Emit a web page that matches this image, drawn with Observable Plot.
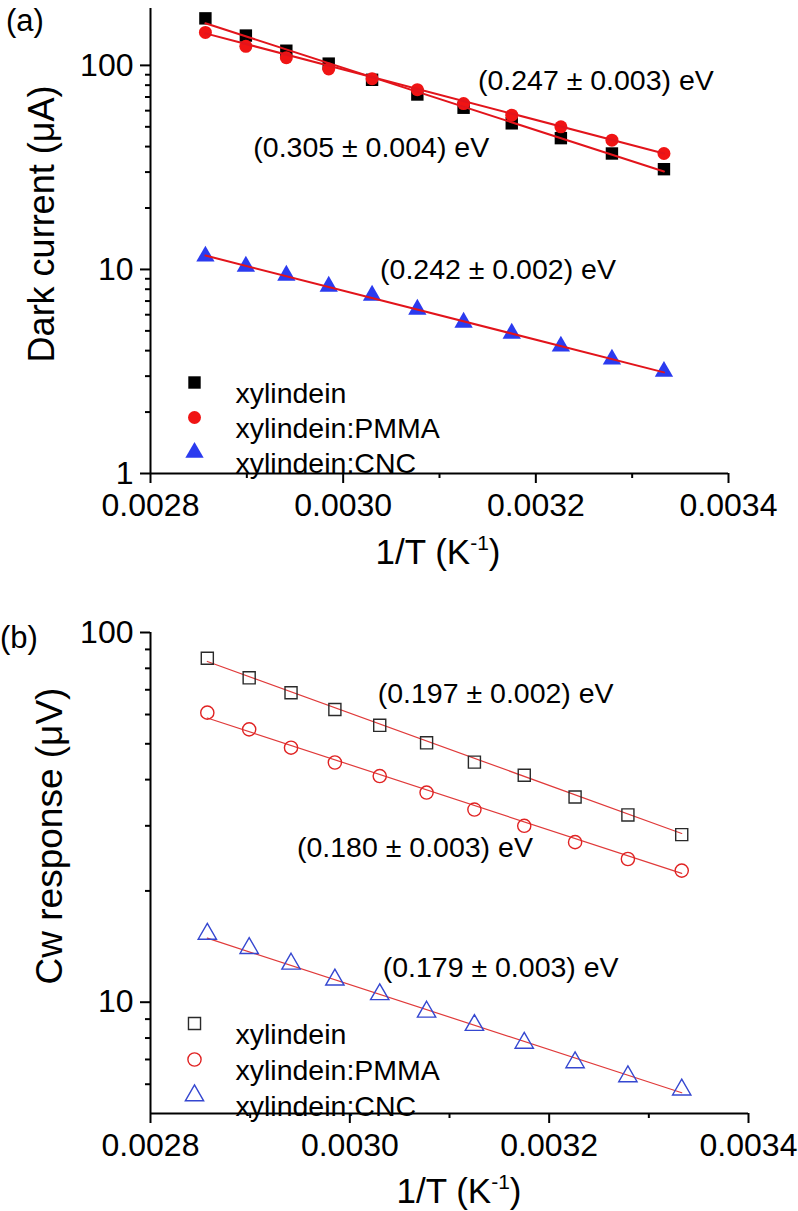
<!DOCTYPE html>
<html><head><meta charset="utf-8">
<script src="https://cdn.jsdelivr.net/npm/d3@7"></script>
<script src="https://cdn.jsdelivr.net/npm/@observablehq/plot@0.6"></script>
<style>
html,body{margin:0;padding:0;background:#fff;}
#chart{width:798px;}
#chart svg{display:block;}
</style>
</head><body><div id="chart"></div>
<script>
// ---------- data ----------
const invT = [0.002857, 0.002899, 0.002941, 0.002985, 0.003030, 0.003077, 0.003125, 0.003175, 0.003226, 0.003279, 0.003333];
const seriesNames = ["xylindein", "xylindein:PMMA", "xylindein:CNC"];

const darkXylindein = [170, 140, 118, 102, 85, 72, 62, 52, 44, 37, 31];
const darkPMMA      = [145, 124, 109, 96, 86, 76, 65, 57, 50, 43, 37];
const darkCNC       = [11.6, 10.35, 9.35, 8.26, 7.46, 6.37, 5.5, 4.86, 4.2, 3.63, 3.16];

const cwXylindein = [85.2, 75.4, 68.7, 61.9, 56.1, 50.3, 44.6, 41.1, 35.9, 32.1, 28.4];
const cwPMMA      = [60.7, 54.7, 48.8, 44.5, 40.9, 36.9, 33.2, 30.0, 27.1, 24.4, 22.7];
const cwCNC       = [15.3, 14.0, 12.7, 11.5, 10.5, 9.42, 8.67, 7.76, 6.87, 6.3, 5.8];

// fitted lines (end points)
const fitInvT = [0.002857, 0.003333];
const darkFitXylindein = [160.8, 30.2];
const darkFitPMMA      = [143.5, 37.0];
const darkFitCNC       = [11.7, 3.13];
const cwFitXylindein   = [83.5, 28.6];
const cwFitPMMA        = [58.7, 22.3];
const cwFitCNC         = [14.9, 5.69];

// activation-energy labels and their anchors (data units)
const darkEnergies = ["(0.305 ± 0.004) eV", "(0.247 ± 0.003) eV", "(0.242 ± 0.002) eV"];
const darkLabelX = [0.0029067, 0.0031399, 0.0030383];
const darkLabelY = [39.6, 84.4, 10.0];
const cwEnergies = ["(0.197 ± 0.002) eV", "(0.180 ± 0.003) eV", "(0.179 ± 0.003) eV"];
const cwLabelX = [0.003028, 0.002947, 0.003033];
const cwLabelY = [68.4, 26.1, 12.36];

// ticks
const xTicks = [0.0028, 0.0030, 0.0032, 0.0034];
const xMinor = [0.0029, 0.0031, 0.0033];
const darkTicksY = [1, 10, 100];
const darkMinorY = [2, 3, 4, 5, 6, 7, 8, 9, 20, 30, 40, 50, 60, 70, 80, 90];
const cwTicksY = [10, 100];
const cwMinorY = [6, 7, 8, 9, 20, 30, 40, 50, 60, 70, 80, 90];

// ---------- helpers ----------
const FONT = '"Liberation Sans", Arial, Helvetica, sans-serif';
const rows = (ys) => invT.map((x, i) => ({x, y: ys[i]}));
const fitRows = (ys) => fitInvT.map((x, i) => ({x, y: ys[i]}));
const labelRows = (texts, xs, ys) => texts.map((t, i) => ({t, x: xs[i], y: ys[i]}));

function axes(yTicks, yMinor, x0, y0) {
  return [
    Plot.axisY(yMinor, {tickSize: 5, strokeWidth: 2, tickFormat: () => "", label: null}),
    Plot.axisY(yTicks, {tickSize: 10, strokeWidth: 2, tickPadding: 7, fontSize: 32, tickFormat: d => String(d), label: null}),
    Plot.axisX(xMinor, {tickSize: 5, strokeWidth: 2, tickFormat: () => "", label: null}),
    Plot.axisX(xTicks, {tickSize: 10, strokeWidth: 2, tickPadding: 10, fontSize: 32, tickFormat: d => d.toFixed(4), label: null}),
    Plot.ruleX([x0], {strokeWidth: 2}),
    Plot.ruleY([y0], {strokeWidth: 2})
  ];
}

function legend(styles, dys) {
  const marks = [];
  seriesNames.forEach((name, i) => {
    marks.push(Plot.dot([name], {frameAnchor: "top-left", dx: 44, dy: dys[i], ...styles[i]}));
    marks.push(Plot.text([name], {frameAnchor: "top-left", dx: 85, dy: dys[i], text: d => d, textAnchor: "start", fontSize: 28.5, fill: "black"}));
  });
  return marks;
}

function addText(svg, {x, y, size, text, anchor = "start", rotate = 0}) {
  return d3.select(svg).append("text")
    .attr("transform", `translate(${x},${y}) rotate(${rotate})`)
    .attr("text-anchor", anchor)
    .attr("font-family", FONT)
    .attr("font-size", size)
    .attr("fill", "black")
    .text(text);
}

function xTitle(svg, cx, baseline) {
  const t = d3.select(svg).append("text")
    .attr("x", cx).attr("y", baseline)
    .attr("text-anchor", "middle")
    .attr("font-family", FONT).attr("font-size", 35).attr("fill", "black");
  t.append("tspan").text("1/T (K");
  t.append("tspan").attr("font-size", 21).attr("dy", -14).text("-1");
  t.append("tspan").attr("dy", 14).text(")");
}

// ---------- panel (a) ----------
const aStyles = [
  {symbol: "square", r: 7, fill: "#000000"},
  {symbol: "circle", r: 6.5, fill: "#f01414"},
  {symbol: "triangle", r: 6.8, fill: "#2b3bef"}
];
const redFitA = "#e2141b";

const svgA = Plot.plot({
  width: 798, height: 590,
  marginTop: 8, marginBottom: 117, marginLeft: 150, marginRight: 70,
  style: {fontFamily: FONT, overflow: "visible", background: "white"},
  x: {domain: [0.0028, 0.0034], axis: null},
  y: {type: "log", domain: [1, 190], axis: null},
  marks: [
    ...axes(darkTicksY, darkMinorY, 0.0028, 1),
    Plot.dot(rows(darkXylindein), {x: "x", y: "y", ...aStyles[0]}),
    Plot.dot(rows(darkPMMA), {x: "x", y: "y", ...aStyles[1]}),
    Plot.dot(rows(darkCNC), {x: "x", y: "y", ...aStyles[2]}),
    Plot.line(fitRows(darkFitXylindein), {x: "x", y: "y", stroke: redFitA, strokeWidth: 2}),
    Plot.line(fitRows(darkFitPMMA), {x: "x", y: "y", stroke: redFitA, strokeWidth: 2}),
    Plot.line(fitRows(darkFitCNC), {x: "x", y: "y", stroke: redFitA, strokeWidth: 2}),
    Plot.text(labelRows(darkEnergies, darkLabelX, darkLabelY), {x: "x", y: "y", text: "t", textAnchor: "start", fontSize: 28.5, fill: "black"}),
    ...legend(aStyles, [374, 409, 444])
  ]
});
addText(svgA, {x: 6, y: 31, size: 31, text: "(a)"});
addText(svgA, {x: 54, y: 224, size: 36, text: "Dark current (μA)", anchor: "middle", rotate: -90});
xTitle(svgA, 438, 564);

// ---------- panel (b) ----------
const bStyles = [
  {symbol: "square", r: 6.8, fill: "none", stroke: "#2a2a2a", strokeWidth: 1.4},
  {symbol: "circle", r: 6.6, fill: "none", stroke: "#e02222", strokeWidth: 1.4},
  {symbol: "triangle", r: 6.8, fill: "none", stroke: "#3547d0", strokeWidth: 1.4}
];
const redFitB = "#e03a3a";

const svgB = Plot.plot({
  width: 798, height: 621,
  marginTop: 42, marginBottom: 98, marginLeft: 150, marginRight: 50,
  style: {fontFamily: FONT, overflow: "visible", background: "white"},
  x: {domain: [0.0028, 0.0034], axis: null},
  y: {type: "log", domain: [5, 100], axis: null},
  marks: [
    ...axes(cwTicksY, cwMinorY, 0.0028, 5),
    Plot.line(fitRows(cwFitXylindein), {x: "x", y: "y", stroke: redFitB, strokeWidth: 1.2}),
    Plot.line(fitRows(cwFitPMMA), {x: "x", y: "y", stroke: redFitB, strokeWidth: 1.2}),
    Plot.line(fitRows(cwFitCNC), {x: "x", y: "y", stroke: redFitB, strokeWidth: 1.2}),
    Plot.dot(rows(cwXylindein), {x: "x", y: "y", ...bStyles[0]}),
    Plot.dot(rows(cwPMMA), {x: "x", y: "y", ...bStyles[1]}),
    Plot.dot(rows(cwCNC), {x: "x", y: "y", ...bStyles[2]}),
    Plot.text(labelRows(cwEnergies, cwLabelX, cwLabelY), {x: "x", y: "y", text: "t", textAnchor: "start", fontSize: 28.5, fill: "black"}),
    ...legend(bStyles, [391, 427, 463])
  ]
});
addText(svgB, {x: 0, y: 58, size: 31, text: "(b)"});
addText(svgB, {x: 62, y: 246, size: 37, text: "Cw response (μV)", anchor: "middle", rotate: -90});
xTitle(svgB, 459, 613);

const chart = document.getElementById("chart");
chart.appendChild(svgA);
chart.appendChild(svgB);
</script>
</body></html>
